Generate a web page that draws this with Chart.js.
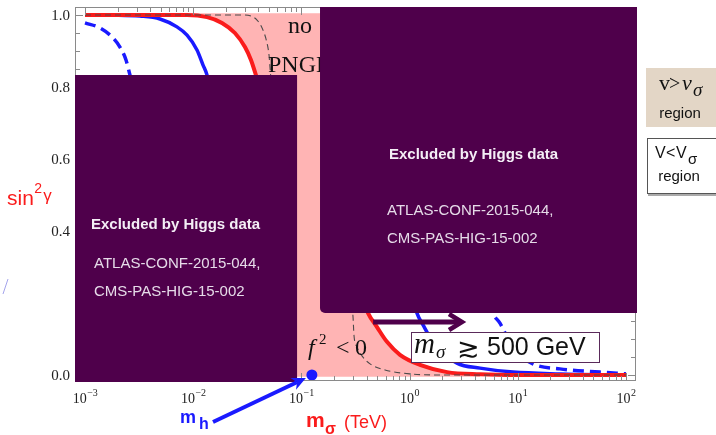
<!DOCTYPE html>
<html>
<head>
<meta charset="utf-8">
<script src="https://cdn.jsdelivr.net/npm/chart.js@4/dist/chart.umd.min.js"></script>
<style>
  html, body { margin: 0; padding: 0; background: #fff; }
  canvas { display: block; }
</style>
</head>
<body>
<canvas id="c" width="716" height="435"></canvas>
<script>
// Axis ranges: m_sigma in TeV (log scale), sin^2(gamma) linear
const X_MIN = Math.pow(10, -3.0924), X_MAX = Math.pow(10, 2.0924);
const Y_MIN = -0.0167, Y_MAX = 1.0222;

// Tick labels
const X_DECADES = [-3, -2, -1, 0, 1, 2];
const Y_LABELS = [0.0, 0.4, 0.6, 0.8, 1.0];

// Red curve, upper and lower visible branches
const RED_UP_X = [0.001, 0.0045, 0.00877, 0.01343, 0.01845, 0.0243, 0.0301, 0.0342, 0.0380, 0.0410];
const RED_UP_Y = [1.0, 1.0, 1.0, 0.994, 0.978, 0.950, 0.911, 0.875, 0.833, 0.80];
const RED_LO_X = [0.36, 0.413, 0.5, 0.618, 0.815, 1.247, 2.218, 4.47, 10, 100];
const RED_LO_Y = [0.22, 0.172, 0.133, 0.092, 0.056, 0.028, 0.008, 0.002, 0.0, 0.0];

// Blue solid curve
const BLUE_UP_X = [0.001, 0.002, 0.00322, 0.00493, 0.00708, 0.00877, 0.01084, 0.01233, 0.01343, 0.0142];
const BLUE_UP_Y = [1.0, 0.9995, 0.997, 0.989, 0.967, 0.944, 0.903, 0.861, 0.833, 0.80];
const BLUE_LO_X = [1.0, 1.17, 1.33, 1.72, 2.74, 4.48, 9.04, 24.5, 100];
const BLUE_LO_Y = [0.25, 0.172, 0.139, 0.083, 0.033, 0.019, 0.008, 0.003, 0.0];

// Blue dashed curve
const BLUED_UP_X = [0.001, 0.001377, 0.001778, 0.002104, 0.002393, 0.002606, 0.0028];
const BLUED_UP_Y = [0.978, 0.964, 0.939, 0.911, 0.875, 0.833, 0.80];
const BLUED_LO_X = [5.0, 5.9, 6.84, 9.0, 13.8, 24.5, 57.5, 100];
const BLUED_LO_Y = [0.25, 0.172, 0.144, 0.075, 0.031, 0.017, 0.008, 0.003];

// Thin dashed boundary curve
const GRAY_UP_X = [0.001, 0.0301, 0.0389, 0.0442, 0.0481, 0.0502, 0.0513, 0.053];
const GRAY_UP_Y = [1.0, 1.0, 0.986, 0.958, 0.922, 0.889, 0.853, 0.80];
const GRAY_LO_X = [0.28, 0.300, 0.306, 0.326, 0.363, 0.431, 0.593, 1.01, 1.91, 100];
const GRAY_LO_Y = [0.25, 0.161, 0.111, 0.078, 0.053, 0.031, 0.014, 0.003, 0.0, 0.0];

// Shaded (no PNGB / f^2 < 0) region outline
const PINK_X = [0.00877, 3.0, 3.0, 0.35, 0.413, 0.5, 0.618, 0.815, 1.247, 2.218, 4.47, 4.47, 0.05, 0.05, 0.038, 0.0342, 0.0301, 0.0243, 0.01845, 0.01343, 0.00877];
const PINK_Y = [1.005, 1.005, 0.25, 0.25, 0.172, 0.133, 0.092, 0.056, 0.028, 0.008, 0.002, -0.005, -0.005, 0.8, 0.833, 0.875, 0.911, 0.950, 0.978, 0.994, 1.0];

// Higgs mass point (TeV)
const MH_X = [0.125];
const MH_Y = [0.0];

const RED = '#fa1c1c', BLUE = '#1a1aff', PINK = '#ffb4b4', PURPLE = '#4f004b';
const SERIF = '"Liberation Serif", "Times New Roman", serif';
const SANS = '"Liberation Sans", Arial, sans-serif';

function pts(xs, ys) { return xs.map((x, i) => ({ x: x, y: ys[i] })); }
function branches(ax, ay, bx, by) {
  const a = pts(ax, ay), b = pts(bx, by);
  const gx = Math.sqrt(ax[ax.length - 1] * bx[0]);
  return a.concat([{ x: gx, y: null }], b);
}

function text(ctx, s, x, y, font, color, align) {
  ctx.font = font; ctx.fillStyle = color;
  ctx.textAlign = align || 'left'; ctx.textBaseline = 'alphabetic';
  ctx.fillText(s, x, y);
  return ctx.measureText(s).width;
}

function arrowHead(ctx, x0, y0, x1, y1, len, half) {
  const dx = x1 - x0, dy = y1 - y0, L = Math.hypot(dx, dy);
  const ux = dx / L, uy = dy / L, nx = -uy, ny = ux;
  ctx.beginPath();
  ctx.moveTo(x1, y1);
  ctx.lineTo(x1 - ux * len + nx * half, y1 - uy * len + ny * half);
  ctx.lineTo(x1 - ux * len * 0.7, y1 - uy * len * 0.7);
  ctx.lineTo(x1 - ux * len - nx * half, y1 - uy * len - ny * half);
  ctx.closePath();
  ctx.fill();
}

// Frame, ticks, overlay panels and in-plot annotations
const overlay = {
  id: 'overlay',
  afterDatasetsDraw(chart) {
    const { ctx, chartArea: a, scales } = chart;
    const sx = scales.x, sy = scales.y;
    const X = v => sx.getPixelForValue(v), Y = v => sy.getPixelForValue(v);
    ctx.save();

    // frame
    ctx.strokeStyle = '#8a8a8a'; ctx.lineWidth = 1;
    ctx.strokeRect(a.left + 0.5, a.top + 0.5, a.right - a.left - 1, a.bottom - a.top - 1);

    // inward ticks, x (log) on bottom and top
    ctx.beginPath();
    for (const d of X_DECADES.concat([3])) {
      for (let m = 1; m <= 9; m++) {
        const v = m * Math.pow(10, d);
        if (v < X_MIN || v > X_MAX) continue;
        const p = Math.round(X(v)) + 0.5, len = m === 1 ? 7 : 4;
        ctx.moveTo(p, a.bottom - 1); ctx.lineTo(p, a.bottom - 1 - len);
        ctx.moveTo(p, a.top + 1); ctx.lineTo(p, a.top + 1 + len);
      }
    }
    // y ticks every 0.05
    for (let k = 0; k <= 20; k++) {
      const v = k * 0.05, p = Math.round(Y(v)) + 0.5, len = k % 4 === 0 ? 7 : 4;
      ctx.moveTo(a.left + 1, p); ctx.lineTo(a.left + 1 + len, p);
      ctx.moveTo(a.right - 1, p); ctx.lineTo(a.right - 1 - len, p);
    }
    ctx.stroke();

    // "no PNGB" label (partly under the right panel)
    text(ctx, 'no', X(0.0751), 33, '24px ' + SERIF, '#111');
    text(ctx, 'PNGB', X(0.0491), 72, '24px ' + SERIF, '#111');

    // Excluded panels
    ctx.fillStyle = PURPLE;
    const lx0 = X(X_MIN), lx1 = X(0.0912), ly0 = Y(0.8333), ly1 = a.bottom + 1;
    ctx.fillRect(lx0, ly0, lx1 - lx0, ly1 - ly0);
    const rx0 = X(0.1486), rx1 = a.right + 1, ry0 = a.top, ry1 = Y(0.172);
    ctx.beginPath();
    ctx.roundRect(rx0, ry0, rx1 - rx0, ry1 - ry0, [0, 0, 0, 5]);
    ctx.fill();

    const head = 'bold 15px ' + SANS, body = '15px ' + SANS;
    text(ctx, 'Excluded by Higgs data', lx0 + 16, 229, head, '#f4eef6');
    text(ctx, 'ATLAS-CONF-2015-044,', lx0 + 19, 268, body, '#e6dbe9');
    text(ctx, 'CMS-PAS-HIG-15-002', lx0 + 19, 296, body, '#e6dbe9');
    text(ctx, 'Excluded by Higgs data', 389, 159, head, '#f4eef6');
    text(ctx, 'ATLAS-CONF-2015-044,', 387, 215, body, '#e6dbe9');
    text(ctx, 'CMS-PAS-HIG-15-002', 387, 243, body, '#e6dbe9');

    // arrow towards heavier m_sigma
    const ay = Math.round(Y(0.147));
    ctx.strokeStyle = PURPLE; ctx.lineWidth = 5; ctx.lineCap = 'butt';
    ctx.beginPath(); ctx.moveTo(X(0.46), ay); ctx.lineTo(X(3.05) - 4, ay); ctx.stroke();
    ctx.lineWidth = 4.5; ctx.lineJoin = 'miter';
    ctx.beginPath();
    ctx.moveTo(X(3.05) - 13, ay - 8); ctx.lineTo(X(3.05), ay); ctx.lineTo(X(3.05) - 13, ay + 8);
    ctx.stroke();

    // f^2 < 0
    text(ctx, 'f', 308, 355, 'italic 24px ' + SERIF, '#111');
    text(ctx, '2', 319, 344, '15px ' + SERIF, '#111');
    text(ctx, '<', 336, 355, '24px ' + SERIF, '#111');
    text(ctx, '0', 355, 355, '24px ' + SERIF, '#111');

    // m_sigma bound label
    ctx.fillStyle = '#fff';
    ctx.fillRect(411, 332, 188, 30);
    ctx.strokeStyle = '#5a2a5a'; ctx.lineWidth = 1;
    ctx.strokeRect(411.5, 332.5, 188, 30);
    text(ctx, 'm', 414, 353, 'italic 29px ' + SERIF, '#111');
    text(ctx, 'σ', 436, 358, 'italic 19px ' + SERIF, '#111');
    text(ctx, '≳', 457, 357, '27px "DejaVu Sans"', '#111');
    text(ctx, '500 GeV', 487, 355, '25px ' + SANS, '#111');

    ctx.restore();
  },
  afterDraw(chart) {
    const { ctx, scales } = chart;
    const px = scales.x.getPixelForValue(MH_X[0]), py = scales.y.getPixelForValue(MH_Y[0]);
    ctx.save();

    // y tick labels
    for (const v of Y_LABELS) {
      ctx.font = '15px ' + SERIF; ctx.fillStyle = '#222';
      ctx.textAlign = 'right'; ctx.textBaseline = 'middle';
      ctx.fillText(v.toFixed(1), 70, scales.y.getPixelForValue(v) + 1);
    }
    // x tick labels 10^n
    for (const d of X_DECADES) {
      const c = scales.x.getPixelForValue(Math.pow(10, d));
      const e = d < 0 ? '\u2212' + Math.abs(d) : String(d);
      ctx.font = '14px ' + SERIF; const w1 = ctx.measureText('10').width;
      ctx.font = '10px ' + SERIF; const w2 = ctx.measureText(e).width;
      const x0 = c - (w1 + w2) / 2;
      text(ctx, '10', x0, 403, '14px ' + SERIF, '#222');
      text(ctx, e, x0 + w1 + 0.5, 396, '10px ' + SERIF, '#222');
    }

    // axis titles
    let w = text(ctx, 'sin', 7, 205, '21px ' + SANS, RED);
    w += text(ctx, '2', 7 + w + 0.5, 193, '14px ' + SANS, RED);
    text(ctx, 'γ', 8 + w + 0.5, 201, '17px ' + SANS, RED);

    text(ctx, 'm', 306, 427, 'bold 21px ' + SANS, RED);
    text(ctx, 'σ', 325, 434, 'bold 16px ' + SANS, RED);
    text(ctx, '(TeV)', 344, 428, '18px ' + SANS, RED);

    // m_h label and arrow to the Higgs point
    text(ctx, 'm', 180, 423, 'bold 18px ' + SANS, BLUE);
    text(ctx, 'h', 199, 429, 'bold 16px ' + SANS, BLUE);
    const tx = px - 6, ty = py + 3;
    ctx.strokeStyle = BLUE; ctx.fillStyle = BLUE; ctx.lineWidth = 4; ctx.lineCap = 'butt';
    ctx.beginPath(); ctx.moveTo(213, 422); ctx.lineTo(tx - 9, ty + 4.3); ctx.stroke();
    arrowHead(ctx, 213, 422, tx, ty, 14, 6.5);

    // region key boxes
    ctx.fillStyle = '#e3d6c6';
    ctx.fillRect(646, 68, 70, 59);
    text(ctx, 'v', 659, 90, '22px ' + SERIF, '#111');
    text(ctx, '>', 669, 90, '20px ' + SERIF, '#111');
    text(ctx, 'v', 682, 90, 'italic 22px ' + SERIF, '#111');
    text(ctx, 'σ', 693, 96, 'italic 19px ' + SERIF, '#111');
    text(ctx, 'region', 680, 118, '15px ' + SANS, '#111', 'center');

    ctx.fillStyle = '#fff';
    ctx.fillRect(647, 138, 69, 55);
    ctx.strokeStyle = '#555'; ctx.lineWidth = 1;
    ctx.strokeRect(647.5, 138.5, 70, 55);
    ctx.strokeStyle = '#aaa'; ctx.lineWidth = 2;
    ctx.beginPath(); ctx.moveTo(648, 195); ctx.lineTo(716, 195); ctx.stroke();
    text(ctx, 'V', 655, 158, '16px ' + SANS, '#111');
    text(ctx, '<', 666, 158, '16px ' + SANS, '#111');
    text(ctx, 'V', 676, 158, '16px ' + SANS, '#111');
    text(ctx, 'σ', 688, 164, '15px ' + SANS, '#111');
    text(ctx, 'region', 679, 181, '15px ' + SANS, '#111', 'center');

    // small stroke at left edge
    ctx.strokeStyle = 'rgba(90,90,220,0.55)'; ctx.lineWidth = 1;
    ctx.beginPath(); ctx.moveTo(3, 294); ctx.lineTo(8, 279); ctx.stroke();

    ctx.restore();
  }
};

const lineBase = { pointRadius: 0, fill: false, cubicInterpolationMode: 'monotone', spanGaps: false };

new Chart(document.getElementById('c'), {
  type: 'line',
  data: {
    datasets: [
      { label: 'm_h', data: pts(MH_X, MH_Y), showLine: false, pointRadius: 5.5,
        pointBackgroundColor: BLUE, pointBorderColor: BLUE, pointBorderWidth: 0, order: 0 },
      Object.assign({ label: 'boundary', data: branches(GRAY_UP_X, GRAY_UP_Y, GRAY_LO_X, GRAY_LO_Y),
        borderColor: '#4a4a4a', borderWidth: 1.1, borderDash: [6, 4], order: 1 }, lineBase),
      Object.assign({ label: 'red', data: branches(RED_UP_X, RED_UP_Y, RED_LO_X, RED_LO_Y),
        borderColor: RED, borderWidth: 4, order: 2 }, lineBase),
      Object.assign({ label: 'blue', data: branches(BLUE_UP_X, BLUE_UP_Y, BLUE_LO_X, BLUE_LO_Y),
        borderColor: BLUE, borderWidth: 3.5, order: 3 }, lineBase),
      Object.assign({ label: 'blue dashed', data: branches(BLUED_UP_X, BLUED_UP_Y, BLUED_LO_X, BLUED_LO_Y),
        borderColor: BLUE, borderWidth: 3.5, borderDash: [11, 6], order: 4 }, lineBase),
      { label: 'region', data: pts(PINK_X, PINK_Y), borderColor: 'rgba(0,0,0,0)', borderWidth: 1,
        backgroundColor: PINK, fill: 'shape', pointRadius: 0, tension: 0, order: 5 }
    ]
  },
  options: {
    responsive: false,
    animation: false,
    devicePixelRatio: 1,
    layout: { padding: { left: 75, right: 80, top: 7, bottom: 54 } },
    plugins: { legend: { display: false }, tooltip: { enabled: false } },
    scales: {
      x: { type: 'logarithmic', display: false, min: X_MIN, max: X_MAX, bounds: 'data' },
      y: { type: 'linear', display: false, min: Y_MIN, max: Y_MAX, bounds: 'data' }
    }
  },
  plugins: [overlay]
});
</script>
</body>
</html>
